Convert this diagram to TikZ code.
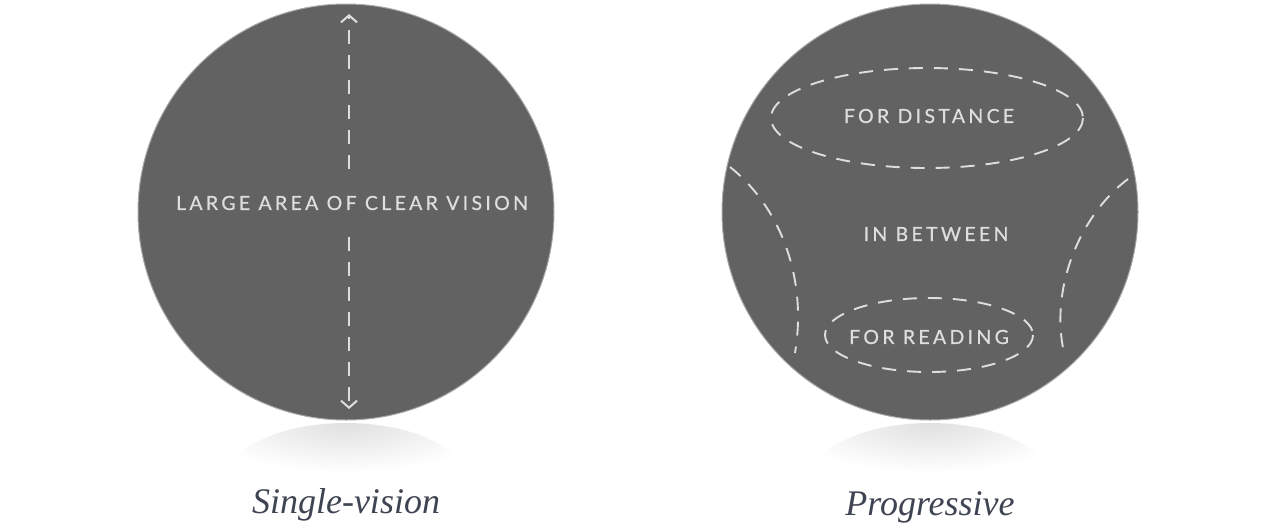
\documentclass[tikz,border=0pt]{standalone}
\usepackage{fontspec}
\usetikzlibrary{arrows.meta}
\newfontfamily\capsfont[LetterSpace=17,FakeBold=0.6]{Lato}
\newfontfamily\captionfont{Liberation Serif}
\definecolor{lensfill}{HTML}{626262}
\definecolor{lensedge}{HTML}{A8A8A8}
\definecolor{guide}{HTML}{DEDEDE}
\definecolor{captionink}{HTML}{3E4451}
\tikzset{
  lens/.style={fill=lensfill, draw=lensedge, line width=1pt},
  zone/.style={draw=guide, line width=1.9pt, dash pattern=on 14pt off 11pt},
  zonelabel/.style={text=guide, font=\capsfont\fontsize{19.5}{22}\selectfont, inner sep=0pt},
  caption/.style={text=captionink, font=\captionfont\itshape\fontsize{36}{40}\selectfont},
  tip/.style={-{Straight Barb[length=7pt,width=16pt,line width=2pt]}},
}
\begin{document}
\begin{tikzpicture}[x=1pt,y=-1pt]
\useasboundingbox (0,0) rectangle (1272,528);

% soft shadows under the lenses
\foreach \cx in {346,930}{
  \begin{scope}
    \clip (\cx,480) ellipse [x radius=120, y radius=57];
    \shade[inner color=black!12, outer color=white]
      (\cx,424) ellipse [x radius=145, y radius=48];
  \end{scope}
}

% single-vision lens
\path[lens] (346,212) circle [radius=208];
\node[zonelabel, inner ysep=27pt, inner xsep=4pt] (wide) at (352,203) {LARGE AREA OF CLEAR VISION};
\coordinate (topend) at (349,14);
\coordinate (botend) at (349,409);
\draw[zone, tip] (wide.north -| topend) -- (topend);
\draw[zone, tip] (wide.south -| botend) -- (botend);

% progressive lens
\path[lens] (930,212) circle [radius=208];
\node[zonelabel] (far) at (929,116) {FOR DISTANCE};
\node[zonelabel] (mid) at (936,234) {IN BETWEEN};
\node[zonelabel] (near) at (929,337) {FOR READING};
\draw[zone] (927,118) ellipse [x radius=156, y radius=50];
\draw[zone] (929,335) ellipse [x radius=104, y radius=37];
\draw[zone] (730,167) .. controls (778,205) and (808,275) .. (795,353);
\draw[zone] (1128,179) .. controls (1080,215) and (1048,290) .. (1065,357);

% captions
\node[caption] (capA) at (346,505) {Single-vision};
\node[caption] (capB) at (930,507) {Progressive};
\end{tikzpicture}
\end{document}
